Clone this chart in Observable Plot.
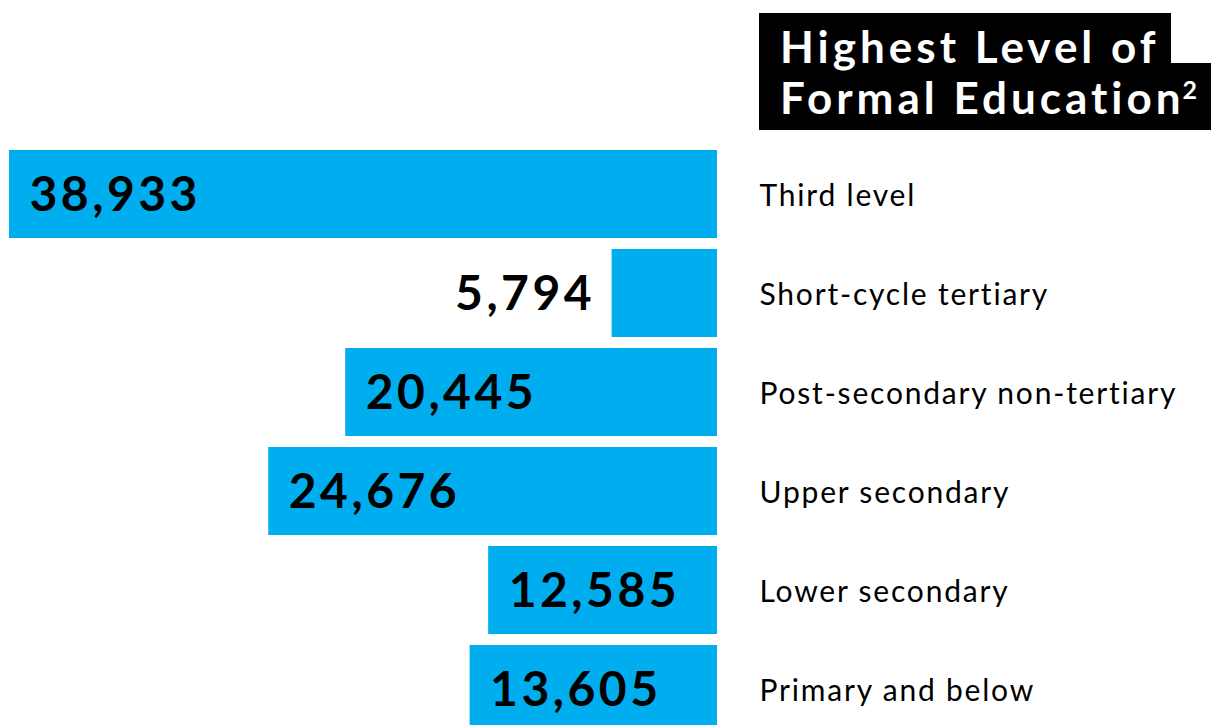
<!DOCTYPE html>
<html>
<head>
<meta charset="utf-8">
<script src="https://cdn.jsdelivr.net/npm/d3@7"></script>
<script src="https://cdn.jsdelivr.net/npm/@observablehq/plot@0.6"></script>
<style>
  html, body { margin: 0; padding: 0; background: #fff; overflow: hidden; }
  #wrap { position: relative; width: 1211px; height: 725px; }
  #chart { position: absolute; left: 0; top: 0; }
  .tbox { position: absolute; background: #000; }
  #title { position: absolute; left: 780px; top: 21px; color: #fff; font-family: Lato, sans-serif;
           font-weight: 700; font-size: 44px; line-height: 51px; white-space: nowrap; letter-spacing: 4px; }
  #title sup { font-size: 25px; vertical-align: 0; position: relative; top: -15px; margin-left: -2px; letter-spacing: 0; }
  #chart text.val { letter-spacing: 3.5px; }
  #chart text.cat { letter-spacing: 1.8px; }
</style>
</head>
<body>
<div id="wrap">
  <div id="chart"></div>
  <div class="tbox" style="left:759px;top:13px;width:412px;height:51px;"></div>
  <div class="tbox" style="left:759px;top:63px;width:452px;height:67px;"></div>
  <div id="title">Highest Level of<br>Formal Education<sup>2</sup></div>
</div>
<script>
const categories = ["Third level", "Short-cycle tertiary", "Post-secondary non-tertiary", "Upper secondary", "Lower secondary", "Primary and below"];
const values = [38933, 5794, 20445, 24676, 12585, 13605];
const labelOutside = [false, true, false, false, false, false];

const data = categories.map((c, i) => ({category: c, value: values[i], outside: labelOutside[i]}));
const fmt = d3.format(",");

const chart = Plot.plot({
  width: 1211,
  height: 733,
  marginTop: 150,
  marginBottom: 0,
  marginLeft: 9,
  marginRight: 494,
  style: {fontFamily: "Lato, sans-serif", color: "#000", background: "transparent", overflow: "visible"},
  x: {domain: [0, 38933], reverse: true, axis: null},
  y: {domain: categories, paddingInner: 11/99, paddingOuter: 0, axis: null},
  marks: [
    Plot.barX(data, {x: "value", y: "category", fill: "#00aeef"}),
    Plot.text(data.filter(d => !d.outside), {x: "value", y: "category", text: d => fmt(d.value),
      textAnchor: "start", dx: 20, dy: 1, fontSize: 48, fontWeight: 700, fill: "#000", lineAnchor: "middle",
      className: "val"}),
    Plot.text(data.filter(d => d.outside), {x: "value", y: "category", text: d => fmt(d.value),
      textAnchor: "end", dx: -17, dy: 1, fontSize: 48, fontWeight: 700, fill: "#000", lineAnchor: "middle",
      className: "val"}),
    Plot.text(data, {x: 0, y: "category", text: "category", textAnchor: "start", dx: 42, dy: 2,
      fontSize: 30, fontWeight: 400, fill: "#000", lineAnchor: "middle", className: "cat"})
  ]
});
chart.querySelectorAll("g.val text").forEach(t => t.classList.add("val"));
chart.querySelectorAll("g.cat text").forEach(t => t.classList.add("cat"));
document.getElementById("chart").appendChild(chart);
</script>
</body>
</html>
